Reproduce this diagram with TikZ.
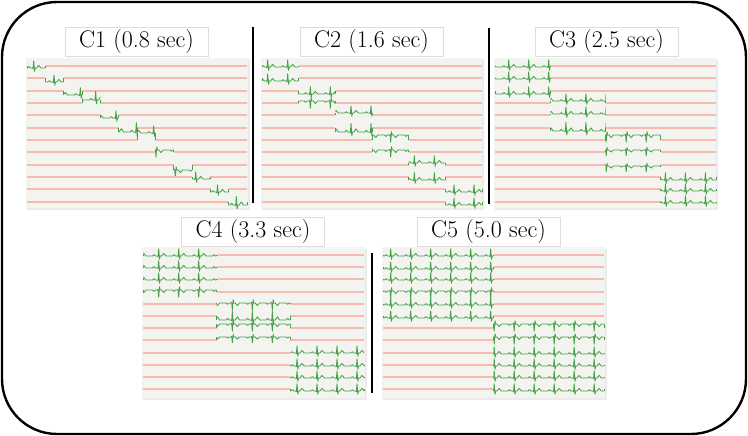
\documentclass[tikz,border=0pt]{standalone}
\definecolor{bgpanel}{RGB}{243,244,240}
\definecolor{redline}{RGB}{246,186,175}
\definecolor{ecggreen}{RGB}{70,160,70}
\definecolor{titleborder}{RGB}{222,222,222}
\tikzset{
  redl/.style={draw=redline, line width=1.8pt},
  grn/.style={draw=ecggreen, line width=0.85pt, line join=round},
  panelbg/.style={fill=bgpanel, draw=none},
  panelshadow/.style={fill=black!8, draw=none},
  titlebox/.style={fill=white, draw=titleborder, line width=0.6pt, inner sep=0pt,
    minimum width=143pt, minimum height=29pt, font=\fontsize{24}{28}\selectfont},
  sepline/.style={draw=black, line width=2.4pt},
  outerframe/.style={draw=black, line width=2.4pt, rounded corners=55pt},
}
% #1 xa, #2 xb, #3 y, #4 dy, #5 phase, #6 polarity, #7 xl, #8 xr
\newcommand\ecgrow[8]{%
  \pgfmathsetmacro\ecgyb{#3+(#4)}%
  \draw[redl] (#7,#3) -- (#1,#3);
  \draw[redl] (#2,#3) -- (#8,#3);
  \draw[grn] (#1,#3) -- (#1,\ecgyb);
  \draw[grn] (#2,\ecgyb) -- (#2,#3);
  \begin{scope}
    \clip (#1,#3-14) rectangle (#2,#3+14);
    \pgfmathtruncatemacro\ecgnb{(#2-#1+#5)/20+1}%
    \pgfmathsetmacro\ecgxs{#1-#5}%
    \def\pp{#6}%
    \draw[grn] (\ecgxs,\ecgyb) \foreach \k in {1,...,\ecgnb}{
      -- ++(3,0) -- ++(1.5,{-1.4*\pp}) -- ++(1.5,{1.4*\pp}) -- ++(2,0)
      -- ++(0.5,{0.8*\pp}) -- ++(0.7,{-8*\pp}) -- ++(0.8,{10.5*\pp}) -- ++(0.7,{-3.3*\pp})
      -- ++(1.3,0) -- ++(2.2,{-2.6*\pp}) -- ++(2.2,{2.6*\pp}) -- ++(3.6,0)};
  \end{scope}
}
% #1 xl, #2 xr, #3 y0, #4 ystep, #5 rows per block, #6 list
\newcommand\ecgpanel[6]{%
  \foreach \ri/\rdy/\rph/\rp in {#6}{%
    \pgfmathsetmacro\ry{round(#3+#4*\ri)}%
    \pgfmathtruncatemacro\rb{int(\ri/#5)}%
    \pgfmathsetmacro\ecgbw{(#2-#1)*#5/12}%
    \pgfmathsetmacro\rxa{#1+\ecgbw*\rb}%
    \pgfmathsetmacro\rxb{\rxa+\ecgbw}%
    \ecgrow{\rxa}{\rxb}{\ry}{\rdy}{\rph}{\rp}{#1}{#2}%
  }%
}
\begin{document}
\begin{tikzpicture}[x=1pt,y=-1pt]
\useasboundingbox (0,0) rectangle (748,436);
\draw[outerframe] (2,2) rectangle (746,434);

% panel backgrounds
\fill[panelshadow] (27,59.5) rectangle (249.5,209.5);
\fill[panelbg] (26,58) rectangle (248,208);
\fill[panelshadow] (262,59.5) rectangle (483.5,209.5);
\fill[panelbg] (261,58) rectangle (482,208);
\fill[panelshadow] (495,59.5) rectangle (717.5,209.5);
\fill[panelbg] (494,58) rectangle (716,208);
\fill[panelshadow] (143,248.5) rectangle (366.5,399.5);
\fill[panelbg] (142,247) rectangle (365,398);
\fill[panelshadow] (383,248.5) rectangle (606.5,399.5);
\fill[panelbg] (382,247) rectangle (605,398);

% titles
\node[titlebox] (t1) at (136.5,41.5) {C1 (0.8 sec)};
\node[titlebox] (t2) at (371.5,41.5) {C2 (1.6 sec)};
\node[titlebox] (t3) at (606.5,41.5) {C3 (2.5 sec)};
\node[titlebox] (t4) at (253,232) {C4 (3.3 sec)};
\node[titlebox] (t5) at (488.5,232) {C5 (5.0 sec)};

% separators
\draw[sepline] (253,27) -- (253,203);
\draw[sepline] (489,28) -- (489,204);
\draw[sepline] (372,253) -- (372,393);

% C1
\ecgpanel{27}{247}{66}{12.33}{1}{0/2/2.5/1, 1/4/0.5/1, 2/4/12.5/1, 3/-3/15.5/1.2, 4/3/13.5/1, 5/4/11.5/1.3, 6/-7/12.5/1, 7/-2/8.5/-1, 8/5/7.5/-1, 9/2/5.5/1, 10/3/2/1, 11/3/1.5/1.2}
% C2
\ecgpanel{262}{482}{66}{12.33}{2}{0/1/3.5/1, 1/3/3.5/1, 2/3/17.5/1, 3/-2/17.5/-1, 4/-2/13.5/1, 5/4/13.5/1.2, 6/-5/10.5/-1, 7/-2/10.5/-1, 8/-2/3.5/1, 9/3/3.5/1, 10/3/0.5/1, 11/3/0.5/1}
% C3
\ecgpanel{495}{716}{66}{12.33}{3}{0/1/15.5/1, 1/1/15.5/1, 2/3/15.5/1, 3/-2/13.5/1, 4/-1/13.5/1, 5/3/13.5/1.2, 6/-5/8.5/-1, 7/-2/8.5/-0.8, 8/1/8.5/-0.8, 9/3/4.5/1, 10/2/4.5/1, 11/1/4.5/1}
% C4
\ecgpanel{143}{364}{255}{12.2}{4}{0/1/13.5/1, 1/1/13.5/1, 2/1/13.5/1, 3/-2/13.5/-1, 4/-1/13.5/-1, 5/4/13.5/1.2, 6/-4/13.5/-1, 7/-3/13.5/-0.8, 8/0/2.5/1, 9/1/2.5/1, 10/1/2.5/1, 11/2/2.5/1}
% C5
\ecgpanel{383}{604}{255}{12.2}{6}{0/1/1.5/1, 1/2/1.5/1, 2/1/1.5/1, 3/-1/1.5/-1, 4/1/1.5/1, 5/2/1.5/1, 6/-4/8.5/-1, 7/-3/8.5/-1, 8/1/8.5/1, 9/1/8.5/1, 10/1/8.5/1, 11/2/8.5/1}
\end{tikzpicture}
\end{document}
